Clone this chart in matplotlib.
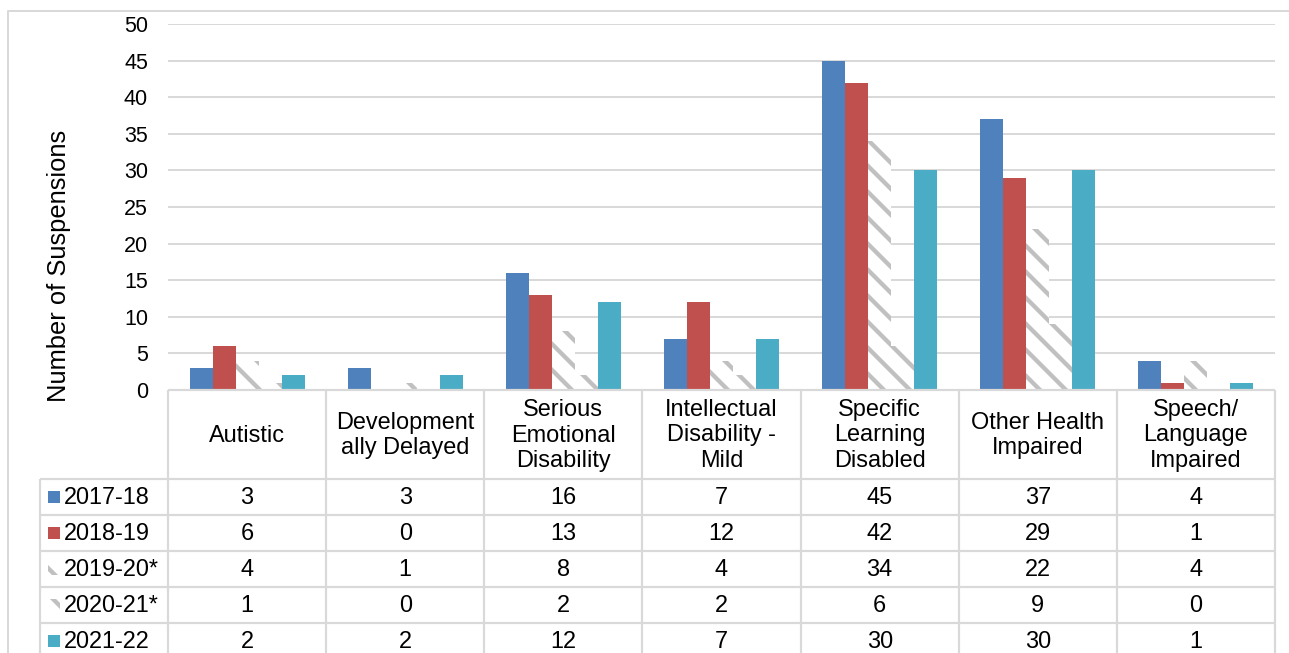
import matplotlib
matplotlib.use("Agg")
import matplotlib.pyplot as plt
from matplotlib.patches import Rectangle
from matplotlib.transforms import blended_transform_factory

# ---------------- data ----------------
categories = ["Autistic", "Development\nally Delayed", "Serious\nEmotional\nDisability",
              "Intellectual\nDisability -\nMild", "Specific\nLearning\nDisabled",
              "Other Health\nImpaired", "Speech/\nLanguage\nImpaired"]
series_names = ["2017-18", "2018-19", "2019-20*", "2020-21*", "2021-22"]
v2017_18 = [3, 3, 16, 7, 45, 37, 4]
v2018_19 = [6, 0, 13, 12, 42, 29, 1]
v2019_20 = [4, 1, 8, 4, 34, 22, 4]
v2020_21 = [1, 0, 2, 2, 6, 9, 0]
v2021_22 = [2, 2, 12, 7, 30, 30, 1]
series_values = [v2017_18, v2018_19, v2019_20, v2020_21, v2021_22]
yticks = list(range(0, 51, 5))

# ---------------- styling ----------------
DPI = 78
W, H = 1289, 653
def pt(px):
    return px * 72.0 / DPI

colors = ["#4F81BD", "#C0504D", "white", "white", "#4BACC6"]
hatches = [None, None, "\\", "\\", None]
hatch_gray = "#C0C0C0"
grid_c = "#D9D9D9"
font = "Liberation Sans"
plt.rcParams["font.family"] = [font, "DejaVu Sans"]
plt.rcParams["hatch.linewidth"] = pt(4.3)

fig = plt.figure(figsize=(W / DPI, H / DPI), dpi=DPI)

ax_left, ax_right, ax_top, ax_bottom = 168, 1275, 24, 390
ax = fig.add_axes([ax_left / W, 1 - ax_bottom / H, (ax_right - ax_left) / W, (ax_bottom - ax_top) / H])

n_cat = len(categories)
n_ser = len(series_names)
bw = 23 / 158.0
for i, (name, vals) in enumerate(zip(series_names, series_values)):
    xs = [c + (i - (n_ser - 1) / 2) * bw for c in range(n_cat)]
    if hatches[i]:
        ax.bar(xs, vals, width=bw, facecolor="white", edgecolor=hatch_gray,
               hatch=hatches[i], linewidth=0, zorder=3)
    else:
        ax.bar(xs, vals, width=bw, color=colors[i], linewidth=0, zorder=3)

ax.set_xlim(-0.5, n_cat - 0.5)
ax.set_ylim(0, 50)
ax.set_yticks(yticks)
ax.set_yticklabels([str(t) for t in yticks], fontsize=pt(21.5), color="black")
ax.tick_params(axis="y", length=0, pad=pt(20))
ax.set_xticks([])
ax.yaxis.grid(True, color=grid_c, linewidth=pt(2), zorder=0)
ax.set_axisbelow(True)
for s in ax.spines.values():
    s.set_visible(False)
ax.set_ylabel("Number of Suspensions", fontsize=pt(25.5))
ax.yaxis.set_label_coords((71 - ax_left) / (ax_right - ax_left),
                          (ax_bottom - 266) / (ax_bottom - ax_top))

# ---------------- data table ----------------
ov = fig.add_axes([0, 0, 1, 1], zorder=5)
ov.set_xlim(0, W)
ov.set_ylim(H, 0)
ov.axis("off")
ov.patch.set_alpha(0)

# outer border (left + top)
ov.plot([7.5, 7.5, W], [H, 10.5, 10.5], color=grid_c, lw=pt(2), solid_capstyle="butt")

tr = blended_transform_factory(ax.transData, ov.transData)
line_kw = dict(color=grid_c, lw=pt(2.2), solid_capstyle="butt")
hdr_top, hdr_bot = 390, 479
row_h = 36
row_tops = [hdr_bot + k * row_h for k in range(n_ser + 1)]
tab_left = 40

ax_x0 = ov.transData.inverted().transform(ax.transData.transform((-0.5, 0)))[0]
ax_x1 = ov.transData.inverted().transform(ax.transData.transform((n_cat - 0.5, 0)))[0]
ov.plot([ax_x0, ax_x1], [hdr_top, hdr_top], **line_kw)
for k in range(n_cat + 1):
    ov.plot([k - 0.5, k - 0.5], [hdr_top, H + 5], transform=tr, **line_kw)
for y in row_tops:
    ov.plot([tab_left, ax_x1], [y, y], **line_kw)
ov.plot([tab_left, tab_left], [hdr_bot, H + 5], **line_kw)

fs_tab = pt(23.5)
for c, label in enumerate(categories):
    ov.text(c, (hdr_top + hdr_bot) / 2 + 1, label, transform=tr, ha="center", va="center",
            fontsize=fs_tab, linespacing=1.23)

for r, (name, vals) in enumerate(zip(series_names, series_values)):
    yc = row_tops[r] + row_h / 2
    if hatches[r]:
        ov.add_patch(Rectangle((48, yc - 6), 12, 12, facecolor="white", edgecolor=hatch_gray,
                               hatch=hatches[r], linewidth=0))
    else:
        ov.add_patch(Rectangle((48, yc - 6), 12, 12, facecolor=colors[r], linewidth=0))
    ov.text(64, yc + 1, name, ha="left", va="center", fontsize=fs_tab)
    for c, v in enumerate(vals):
        ov.text(c, yc + 1, str(v), transform=tr, ha="center", va="center", fontsize=fs_tab)

fig.savefig("out.png", dpi=DPI)
